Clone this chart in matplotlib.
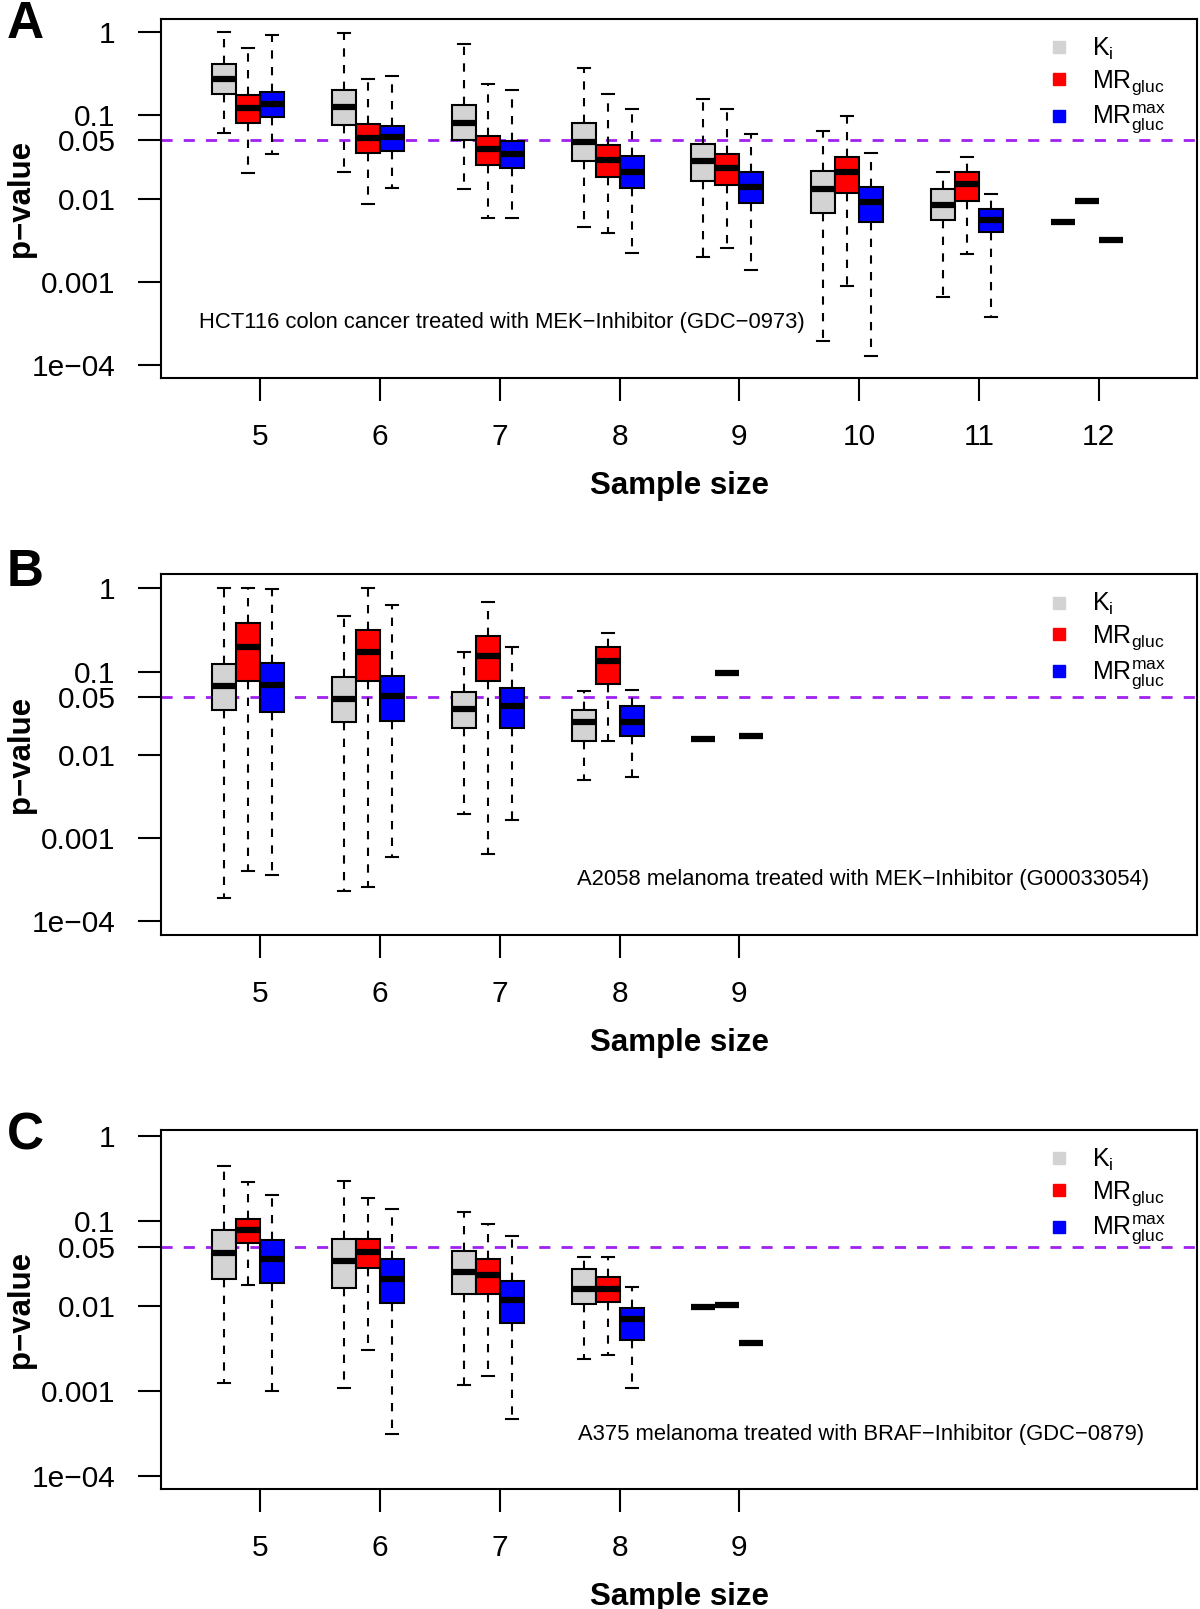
import matplotlib.pyplot as plt
from matplotlib.lines import Line2D
from matplotlib.ticker import NullLocator

plt.rcParams['font.family'] = ['Liberation Sans', 'DejaVu Sans']
plt.rcParams['mathtext.fontset'] = 'custom'
plt.rcParams['mathtext.rm'] = 'Liberation Sans'
plt.rcParams['mathtext.it'] = 'Liberation Sans:italic'

# p-values per sample size: (whisker low, q1, median, q3, whisker high)
sizes_A = [5, 6, 7, 8, 9, 10, 11, 12]
A_ki = [(0.062, 0.180, 0.272, 0.416, 1.0), (0.0207, 0.076, 0.126, 0.20, 0.97),
        (0.0130, 0.0508, 0.082, 0.135, 0.72), (0.00453, 0.0284, 0.0484, 0.082, 0.376),
        (0.00197, 0.0164, 0.0284, 0.0454, 0.158), (0.000191, 0.00667, 0.0130, 0.0217, 0.0652),
        (0.000646, 0.00545, 0.0084, 0.0131, 0.0206), (0.00525, 0.00525, 0.00525, 0.00525, 0.00525)]
A_mr = [(0.0202, 0.082, 0.122, 0.176, 0.653), (0.0086, 0.0348, 0.053, 0.078, 0.272),
        (0.00575, 0.0256, 0.0393, 0.0571, 0.239), (0.00384, 0.0181, 0.0292, 0.0442, 0.18),
        (0.00251, 0.0146, 0.0232, 0.0344, 0.12), (0.000875, 0.0118, 0.0206, 0.032, 0.0986),
        (0.00216, 0.00946, 0.0149, 0.0206, 0.032), (0.00938, 0.00938, 0.00938, 0.00938, 0.00938)]
A_mrmax = [(0.0344, 0.095, 0.137, 0.193, 0.92), (0.0132, 0.0372, 0.0547, 0.075, 0.30),
           (0.0058, 0.0230, 0.0342, 0.0498, 0.20), (0.00221, 0.0133, 0.0209, 0.0326, 0.12),
           (0.00139, 0.00895, 0.0137, 0.0206, 0.0594), (0.000129, 0.00525, 0.0092, 0.0136, 0.0352),
           (0.000372, 0.0039, 0.00555, 0.00745, 0.0114), (0.00319, 0.00319, 0.00319, 0.00319, 0.00319)]

sizes_B = [5, 6, 7, 8, 9]
B_ki = [(0.000186, 0.0344, 0.0668, 0.124, 1.0), (0.00023, 0.0249, 0.047, 0.0849, 0.469),
        (0.00192, 0.0212, 0.035, 0.0571, 0.173), (0.00494, 0.0146, 0.0249, 0.0344, 0.0587),
        (0.0154, 0.0154, 0.0154, 0.0154, 0.0154)]
B_mr = [(0.000398, 0.076, 0.199, 0.383, 1.0), (0.000257, 0.076, 0.17, 0.318, 1.0),
        (0.000635, 0.0774, 0.152, 0.264, 0.692), (0.0146, 0.07, 0.134, 0.199, 0.292),
        (0.0966, 0.0966, 0.0966, 0.0966, 0.0966)]
B_mrmax = [(0.000355, 0.0325, 0.068, 0.128, 0.98), (0.00059, 0.0254, 0.0501, 0.089, 0.624),
           (0.00163, 0.021, 0.0387, 0.0638, 0.199), (0.00542, 0.0167, 0.0249, 0.0384, 0.0598),
           (0.0166, 0.0166, 0.0166, 0.0166, 0.0166)]

sizes_C = [5, 6, 7, 8, 9]
C_ki = [(0.00124, 0.0211, 0.0424, 0.0785, 0.447), (0.00108, 0.0162, 0.0341, 0.0621, 0.297),
        (0.00117, 0.0137, 0.0253, 0.0448, 0.128), (0.00242, 0.0106, 0.016, 0.027, 0.0377),
        (0.0097, 0.0097, 0.0097, 0.0097, 0.0097)]
C_mr = [(0.0176, 0.0556, 0.0778, 0.107, 0.284), (0.00307, 0.0282, 0.0432, 0.0621, 0.184),
        (0.00149, 0.0139, 0.0233, 0.0354, 0.0916), (0.00265, 0.0111, 0.0157, 0.0217, 0.0377),
        (0.0103, 0.0103, 0.0103, 0.0103, 0.0103)]
C_mrmax = [(0.000998, 0.0185, 0.0354, 0.0593, 0.205), (0.00031, 0.0108, 0.0206, 0.0354, 0.14),
           (0.000467, 0.00632, 0.0119, 0.0196, 0.0661), (0.0011, 0.00403, 0.00706, 0.0096, 0.0167),
           (0.00364, 0.00364, 0.00364, 0.00364, 0.00364)]

method_colors = ['#D3D3D3', '#FF0000', '#0000FF']
method_labels = [r'$\mathrm{K_i}$', r'$\mathrm{MR_{gluc}}$', r'$\mathrm{MR_{gluc}^{max}}$']
offsets = [-0.3, -0.1, 0.1]

ytick_vals = [1, 0.1, 0.05, 0.01, 0.001, 1e-4]
ytick_labels = ['1', '0.1', '0.05', '0.01', '0.001', '1e\u221204']

W, H = 1200, 1609
fig = plt.figure(figsize=(12, 16.09), dpi=100)


def draw_panel(top_px, bottom_px, sizes, groups, ylog, note, note_xy, letter, letter_y):
    ax = fig.add_axes([160.7 / W, 1 - bottom_px / H, (1197 - 160.7) / W, (bottom_px - top_px) / H])
    for data, col, off in zip(groups, method_colors, offsets):
        stats = [dict(whislo=d[0], q1=d[1], med=d[2], q3=d[3], whishi=d[4], fliers=[]) for d in data]
        ax.bxp(stats, positions=[s + off for s in sizes], widths=0.2, capwidths=0.1,
               patch_artist=True, showfliers=False, manage_ticks=False,
               boxprops=dict(facecolor=col, edgecolor='black', linewidth=1.5),
               whiskerprops=dict(color='black', linewidth=1.5, linestyle=(0, (4, 4))),
               capprops=dict(color='black', linewidth=1.5),
               medianprops=dict(color='black', linewidth=4.5, solid_capstyle='butt'))
    ax.axhline(0.05, color='#A020F0', linewidth=2, linestyle=(0, (4, 4)), zorder=0.5)

    ax.set_yscale('log')
    ax.set_ylim(10 ** ylog[0], 10 ** ylog[1])
    ax.set_xlim(4.17, 12.82)
    ax.set_yticks(ytick_vals)
    ax.set_yticklabels(ytick_labels)
    ax.yaxis.set_minor_locator(NullLocator())
    ax.set_xticks(sizes)
    ax.set_xticklabels([str(s) for s in sizes])
    ax.tick_params(direction='out', length=16.5, width=1.5, labelsize=21.5, pad=16)
    for sp in ax.spines.values():
        sp.set_linewidth(1.5)

    handles = [Line2D([], [], marker='s', linestyle='none', markersize=9,
                      markerfacecolor=c, markeredgecolor=c) for c in method_colors]
    ax.legend(handles, method_labels, loc='upper left', bbox_to_anchor=(0.855, 0.953),
              frameon=False, fontsize=18, handlelength=1.0, handletextpad=0.8,
              labelspacing=0.25, borderpad=0, borderaxespad=0)

    ax.text(note_xy[0], note_xy[1], note, transform=ax.transAxes, fontsize=15.8,
            ha='left', va='center')

    fig.text(21 / W, 1 - (top_px + bottom_px) / 2 / H, 'p\u2212value', rotation=90,
             ha='center', va='center', fontsize=22.5, fontweight='bold')
    fig.text(679 / W, 1 - (bottom_px + 108) / H, 'Sample size',
             ha='center', va='center', fontsize=22.5, fontweight='bold')
    fig.text(25 / W, 1 - letter_y / H, letter, ha='center', va='center',
             fontsize=37, fontweight='bold')
    return ax


draw_panel(19, 378, sizes_A, [A_ki, A_mr, A_mrmax], (-4.16, 0.16),
           'HCT116 colon cancer treated with MEK\u2212Inhibitor (GDC\u22120973)',
           (0.037, 0.155), 'A', 24.5)
draw_panel(574.3, 935, sizes_B, [B_ki, B_mr, B_mrmax], (-4.17, 0.17),
           'A2058 melanoma treated with MEK\u2212Inhibitor (G00033054)',
           (0.402, 0.1525), 'B', 572)
draw_panel(1130, 1489, sizes_C, [C_ki, C_mr, C_mrmax], (-4.15, 0.07),
           'A375 melanoma treated with BRAF\u2212Inhibitor (GDC\u22120879)',
           (0.403, 0.153), 'C', 1136)

fig.savefig('out.png', dpi=100)
